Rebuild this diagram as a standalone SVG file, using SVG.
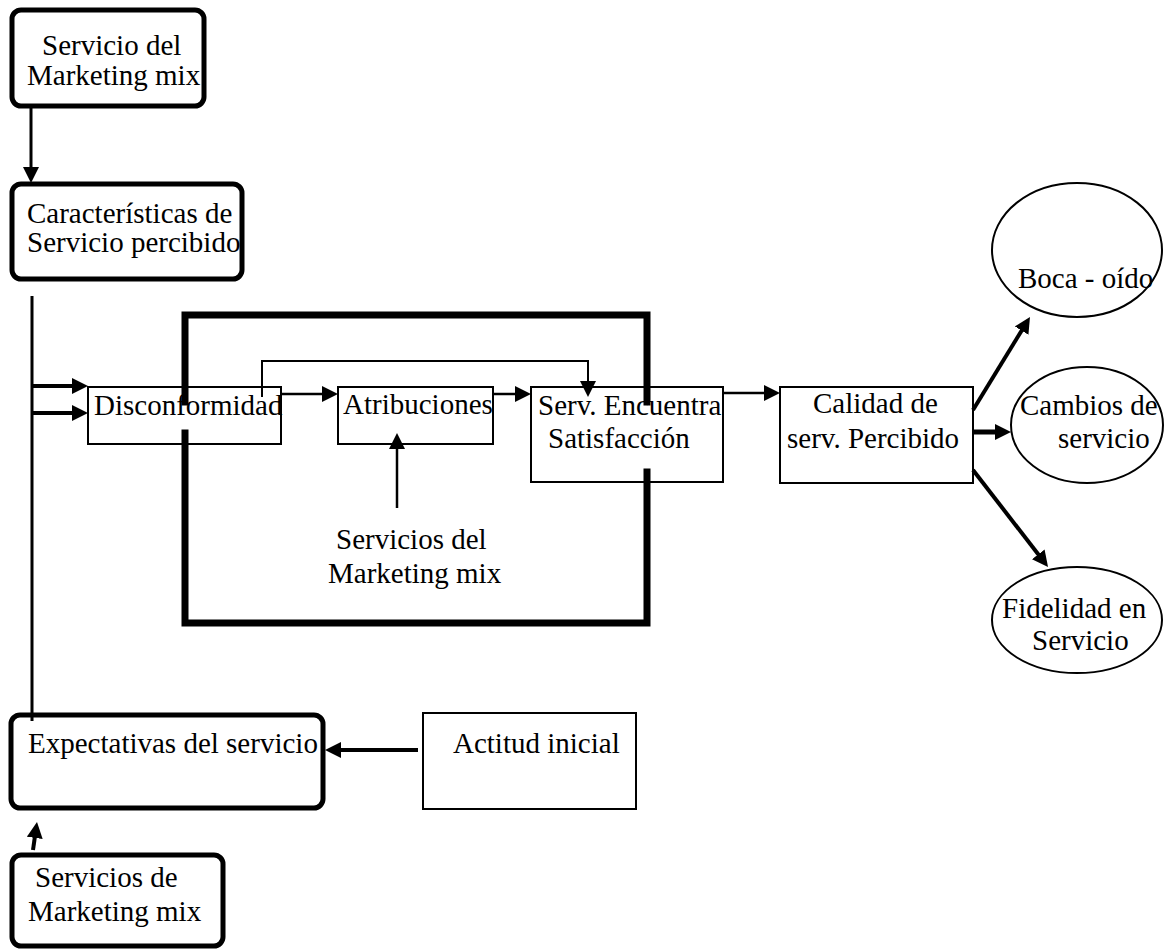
<svg xmlns="http://www.w3.org/2000/svg" width="1164" height="949" viewBox="0 0 1164 949">
<style>
  text { font-family: "Liberation Serif", "Times New Roman", serif; font-size: 29px; fill: #000; }
  .rbox { fill: #fff; stroke: #000; stroke-width: 5; }
  .box { fill: #fff; stroke: #000; stroke-width: 2; }
  .ell { fill: #fff; stroke: #000; stroke-width: 2; }
  .frame { fill: none; stroke: #000; stroke-width: 7; stroke-linejoin: miter; stroke-linecap: square; }
  .c { fill: none; stroke: #000; }
</style>
<defs>
  <marker id="ah" viewBox="0 0 16 16" markerWidth="16" markerHeight="16" refX="4" refY="8" orient="auto" markerUnits="userSpaceOnUse">
    <path d="M0,0 L16,8 L0,16 z" fill="#000"/>
  </marker>
</defs>
<rect width="1164" height="949" fill="#fff"/>

<g id="n-servicio-mm">
  <rect class="rbox" x="12" y="10" width="192" height="96" rx="9"/>
  <text x="42" y="55">Servicio del</text>
  <text x="27" y="85">Marketing mix</text>
</g>

<g id="n-caracteristicas">
  <rect class="rbox" x="12" y="184" width="230" height="95" rx="9"/>
  <text x="27" y="223">Características de</text>
  <text x="27" y="252">Servicio percibido</text>
</g>

<g id="n-disconformidad">
  <rect class="box" x="88" y="387" width="193" height="57"/>
  <text x="94" y="415">Disconformidad</text>
</g>

<g id="n-atribuciones">
  <rect class="box" x="338" y="387" width="155" height="57"/>
  <text x="343" y="414">Atribuciones</text>
</g>

<g id="n-serv-encuentra">
  <rect class="box" x="531" y="387" width="192" height="95"/>
  <text x="538" y="415">Serv. Encuentra</text>
  <text x="548" y="448">Satisfacción</text>
</g>

<g id="n-frame">
  <path class="frame" d="M185,402 V315 H647 V402"/>
  <path class="frame" d="M185,433 V623 H647 V472"/>
</g>

<g id="n-servicios-del-mm">
  <text x="336" y="549">Servicios del</text>
  <text x="328" y="583">Marketing mix</text>
</g>

<g id="n-calidad">
  <rect class="box" x="780" y="387" width="193" height="96"/>
  <text x="813" y="413">Calidad de</text>
  <text x="787" y="448">serv. Percibido</text>
</g>

<g id="n-boca">
  <ellipse class="ell" cx="1077" cy="250" rx="85" ry="67"/>
  <text x="1018" y="288">Boca - oído</text>
</g>

<g id="n-cambios">
  <ellipse class="ell" cx="1087" cy="425" rx="76" ry="58"/>
  <text x="1020" y="415">Cambios de</text>
  <text x="1058" y="448">servicio</text>
</g>

<g id="n-fidelidad">
  <ellipse class="ell" cx="1077" cy="620" rx="85" ry="53"/>
  <text x="1002" y="618">Fidelidad en</text>
  <text x="1032" y="650">Servicio</text>
</g>

<g id="n-expectativas">
  <rect class="rbox" x="11" y="715" width="312" height="93" rx="9"/>
  <text x="28" y="753">Expectativas del servicio</text>
</g>

<g id="n-actitud">
  <rect class="box" x="423" y="713" width="213" height="96"/>
  <text x="453" y="753">Actitud inicial</text>
</g>

<g id="n-servicios-de-mm">
  <rect class="rbox" x="12" y="855" width="211" height="91" rx="9"/>
  <text x="35" y="887">Servicios de</text>
  <text x="28" y="921">Marketing mix</text>
</g>

<g id="connectors">
  <line class="c" x1="31" y1="107" x2="31" y2="171" stroke-width="3" marker-end="url(#ah)"/>
  <line class="c" x1="32" y1="296" x2="32" y2="721" stroke-width="3"/>
  <line class="c" x1="32" y1="386" x2="76" y2="386" stroke-width="4" marker-end="url(#ah)"/>
  <line class="c" x1="32" y1="413" x2="76" y2="413" stroke-width="4" marker-end="url(#ah)"/>
  <line class="c" x1="281" y1="394" x2="326" y2="394" stroke-width="2.5" marker-end="url(#ah)"/>
  <line class="c" x1="493" y1="394" x2="519" y2="394" stroke-width="2.5" marker-end="url(#ah)"/>
  <path class="c" d="M262,397 V361 H588 V385" stroke-width="2" marker-end="url(#ah)"/>
  <line class="c" x1="397" y1="508" x2="397" y2="445" stroke-width="2.5" marker-end="url(#ah)"/>
  <line class="c" x1="723" y1="393" x2="768" y2="393" stroke-width="2.5" marker-end="url(#ah)"/>
  <line class="c" x1="973" y1="410" x2="1023.7" y2="327.2" stroke-width="4" marker-end="url(#ah)"/>
  <line class="c" x1="973" y1="432" x2="999" y2="432" stroke-width="5" marker-end="url(#ah)"/>
  <line class="c" x1="973" y1="470" x2="1040.7" y2="557.5" stroke-width="4" marker-end="url(#ah)"/>
  <line class="c" x1="418" y1="750" x2="337" y2="750" stroke-width="4" marker-end="url(#ah)"/>
  <line class="c" x1="33" y1="850" x2="35.3" y2="833.9" stroke-width="4" marker-end="url(#ah)"/>
</g>
</svg>
